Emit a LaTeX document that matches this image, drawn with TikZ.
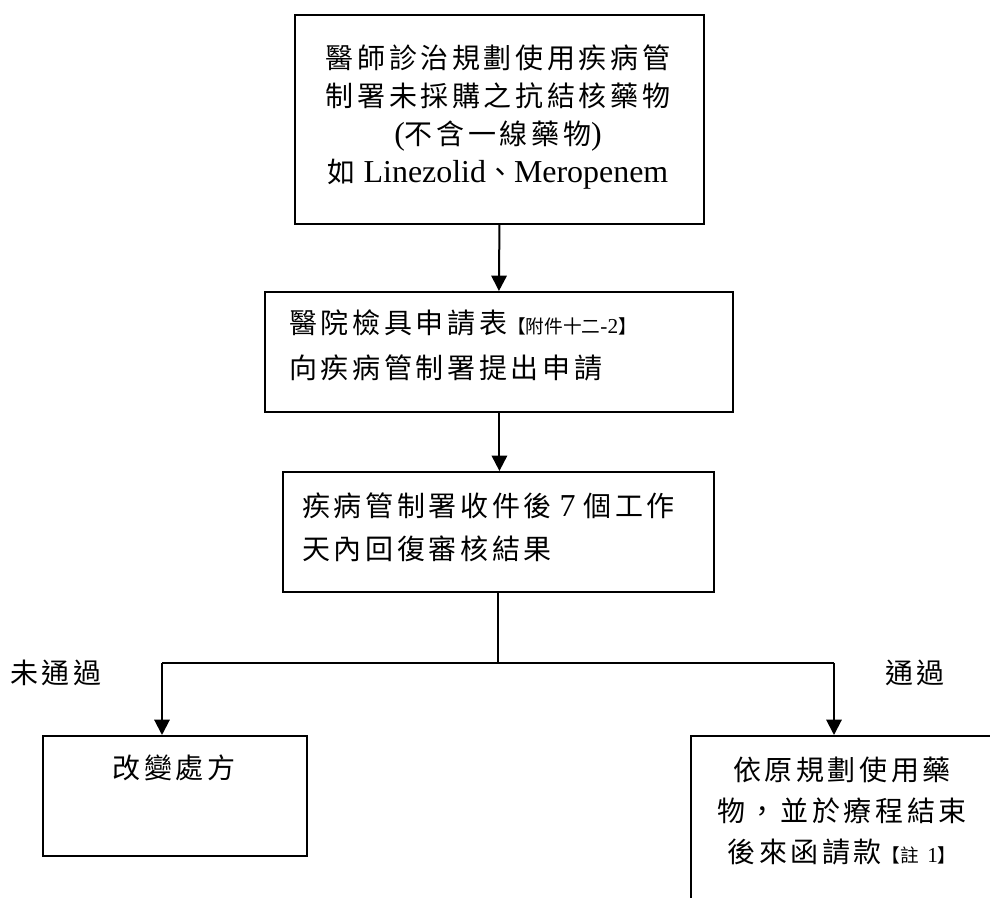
\documentclass[tikz,border=0pt]{standalone}
\usepackage{fontspec}
\setmainfont{Liberation Serif}[Scale=1.14]
\newfontfamily\cjk[LetterSpace=13]{Noto Sans CJK TC}
\newfontfamily\cjksmall{Noto Sans CJK TC}
\usetikzlibrary{arrows.meta}
\newcommand\zhtxt[1]{{\cjk #1}}
\newcommand\smalltag[1]{{\fontsize{14}{14}\selectfont #1}}
\begin{document}
\begin{tikzpicture}[x=0.75pt,y=-0.75pt,
  box/.style={draw,line width=1.4pt,rectangle,inner sep=0pt,anchor=north west},
  txt/.style={inner sep=0pt,font=\fontsize{21}{29}\selectfont},
  flow/.style={line width=1.5pt,-{Triangle[length=11.5pt,width=11.5pt]}},
  link/.style={line width=1.5pt}]
\useasboundingbox (0,0) rectangle (990,898);
\clip (0,0) rectangle (990,898);
\fill[white] (0,0) rectangle (990,898);

% boxes
\node[box,minimum width=306.75pt,minimum height=156.75pt] (b1) at (294,14) {};
\node[box,minimum width=351pt,minimum height=90pt] (b2) at (264,291) {};
\node[box,minimum width=323.25pt,minimum height=90pt] (b3) at (282,471) {};
\node[box,minimum width=198pt,minimum height=90pt] (b4) at (42,735) {};
\node[box,minimum width=240pt,minimum height=135pt] (b5) at (690,735) {};

% box texts
\node[txt,align=center] (t1) at (498,117)
  {\zhtxt{醫師診治規劃使用疾病管}\\[-0.6pt]
   \zhtxt{制署未採購之抗結核藥物}\\[-0.6pt]
   (\zhtxt{不含一線藥物})\\[-0.6pt]
   \zhtxt{如} Linezolid\zhtxt{、}Meropenem};
\node[txt,align=left,anchor=west,font=\fontsize{21}{33.75}\selectfont] (t2) at (289,345)
  {\zhtxt{醫院檢具申請表}\smalltag{\cjksmall 【附件十二}\smalltag{-2}\smalltag{\cjksmall 】}\\
   \zhtxt{向疾病管制署提出申請}};
\node[txt,align=left,anchor=west,font=\fontsize{21}{32.25}\selectfont] (t3) at (302,527)
  {\zhtxt{疾病管制署收件後} 7 \zhtxt{個工作}\\
   \zhtxt{天內回復審核結果}};
\node[txt] (t4) at (174,768) {\zhtxt{改變處方}};
\node[txt,align=center,font=\fontsize{21}{31}\selectfont] (t5) at (842,811)
  {\zhtxt{依原規劃使用藥}\\
   \zhtxt{物，並於療程結束}\\
   \zhtxt{後來函請款}\smalltag{\cjksmall 【註} \smalltag{1}\smalltag{\cjksmall 】}};

% branch labels
\node[txt] (no) at (56,673) {\zhtxt{未通過}};
\node[txt] (yes) at (915,673) {\zhtxt{通過}};

% connectors
\coordinate (j) at (498,663);
\coordinate (jl) at (162,663);
\coordinate (jr) at (834,663);
\draw[flow] (b1.south) -- (b2.north);
\draw[flow] (b2.south -| b1.south) -- (b3.north -| b1.south);
\draw[link] (b3.south -| j) -- (j);
\draw[link] (jl) -- (jr);
\draw[flow] (jl) -- (jl |- b4.north);
\draw[flow] (jr) -- (jr |- b5.north);
\end{tikzpicture}
\end{document}
